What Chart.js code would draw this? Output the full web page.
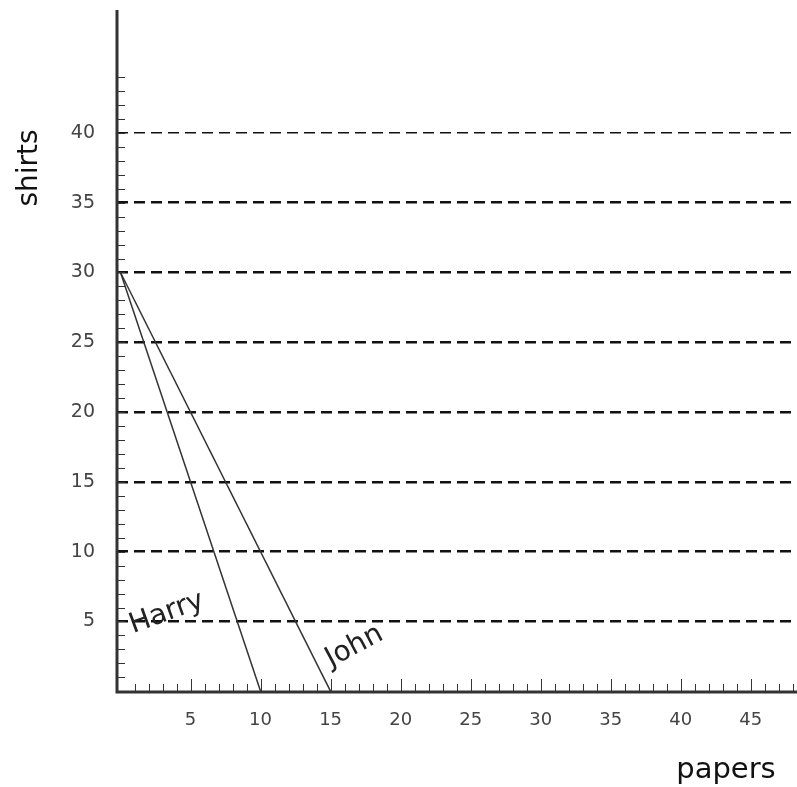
<!DOCTYPE html>
<html>
<head>
<meta charset="utf-8">
<script src="https://cdn.jsdelivr.net/npm/chart.js@4/dist/chart.umd.min.js"></script>
<style>
  html, body { margin: 0; padding: 0; background: #fff; }
  #wrap { width: 797px; height: 787px; }
</style>
</head>
<body>
<div id="wrap"><canvas id="chart"></canvas></div>
<script>
// data
const harryPoints = [{ x: 0, y: 30 }, { x: 10, y: 0 }];
const johnPoints = [{ x: 0, y: 30 }, { x: 15, y: 0 }];
const xTickLabels = [5, 10, 15, 20, 25, 30, 35, 40, 45];
const yTickLabels = [5, 10, 15, 20, 25, 30, 35, 40];
const lineLabels = [
  { text: 'Harry', x: 3.3, y: 5.6, angle: -20, size: 28 },
  { text: 'John', x: 16.7, y: 3.2, angle: -28, size: 28 }
];

const FONT = '"DejaVu Sans", Verdana, sans-serif';

// small tick marks along both axes, drawn inside the plot
const minorTicks = {
  id: 'minorTicks',
  afterDraw(chart) {
    const { ctx, scales: { x, y }, chartArea } = chart;
    ctx.save();
    ctx.strokeStyle = '#333';
    ctx.lineWidth = 1;
    for (let v = 1; v <= x.max; v++) {
      const px = Math.round(x.getPixelForValue(v)) + 0.5;
      const len = v % 5 === 0 ? 13 : 8;
      ctx.beginPath();
      ctx.moveTo(px, chartArea.bottom);
      ctx.lineTo(px, chartArea.bottom - len);
      ctx.stroke();
    }
    for (let v = 1; v <= 44; v++) {
      const py = Math.round(y.getPixelForValue(v)) + 0.5;
      ctx.beginPath();
      ctx.moveTo(chartArea.left, py);
      ctx.lineTo(chartArea.left + 8, py);
      ctx.stroke();
    }
    // axis lines
    ctx.lineWidth = 3;
    ctx.strokeStyle = '#333';
    ctx.beginPath();
    ctx.moveTo(chartArea.left, chartArea.top);
    ctx.lineTo(chartArea.left, chartArea.bottom);
    ctx.lineTo(chartArea.right, chartArea.bottom);
    ctx.stroke();
    // line names
    ctx.fillStyle = '#222';
    ctx.textAlign = 'center';
    ctx.textBaseline = 'middle';
    lineLabels.forEach(l => {
      ctx.save();
      ctx.font = l.size + 'px ' + FONT;
      ctx.translate(x.getPixelForValue(l.x), y.getPixelForValue(l.y));
      ctx.rotate(l.angle * Math.PI / 180);
      ctx.fillText(l.text, 0, 0);
      ctx.restore();
    });
    // axis titles
    ctx.fillStyle = '#111';
    ctx.font = '28px ' + FONT;
    ctx.save();
    ctx.translate(30, 168);
    ctx.rotate(-Math.PI / 2);
    ctx.fillText('shirts', 0, 0);
    ctx.restore();
    ctx.font = '29px ' + FONT;
    ctx.fillText('papers', 726, 770);
    ctx.restore();
  }
};

new Chart(document.getElementById('chart'), {
  type: 'scatter',
  data: {
    datasets: [
      { label: 'Harry', data: harryPoints, showLine: true, borderColor: '#333', borderWidth: 1.5, pointRadius: 0 },
      { label: 'John', data: johnPoints, showLine: true, borderColor: '#333', borderWidth: 1.5, pointRadius: 0 }
    ]
  },
  options: {
    responsive: true,
    maintainAspectRatio: false,
    animation: false,
    layout: { padding: { top: 10, right: 0, left: 0, bottom: 0 } },
    plugins: { legend: { display: false }, tooltip: { enabled: false } },
    scales: {
      x: {
        type: 'linear',
        min: -0.25,
        max: 48.3,
        afterFit: s => { s.height = 95; s.paddingRight = 0; s.paddingLeft = 0; },
        afterBuildTicks: s => { s.ticks = xTickLabels.map(v => ({ value: v })); },
        border: { display: false },
        grid: { display: false },
        ticks: {
          color: '#444',
          font: { family: FONT, size: 18 },
          padding: 10,
          callback: v => String(v)
        }
      },
      y: {
        type: 'linear',
        min: -0.05,
        max: 48.8,
        afterFit: s => { s.width = 117; s.paddingTop = 0; s.paddingBottom = 0; },
        afterBuildTicks: s => { s.ticks = yTickLabels.map(v => ({ value: v })); },
        border: { display: false, dash: [11, 6] },
        grid: {
          drawTicks: false,
          color: '#111',
          lineWidth: ctx => (ctx.tick && ctx.tick.value === 40) ? 1.5 : 2.5
        },
        ticks: {
          color: '#444',
          font: { family: FONT, size: 19 },
          padding: 22,
          callback: v => String(v)
        }
      }
    }
  },
  plugins: [minorTicks]
});
</script>
</body>
</html>
